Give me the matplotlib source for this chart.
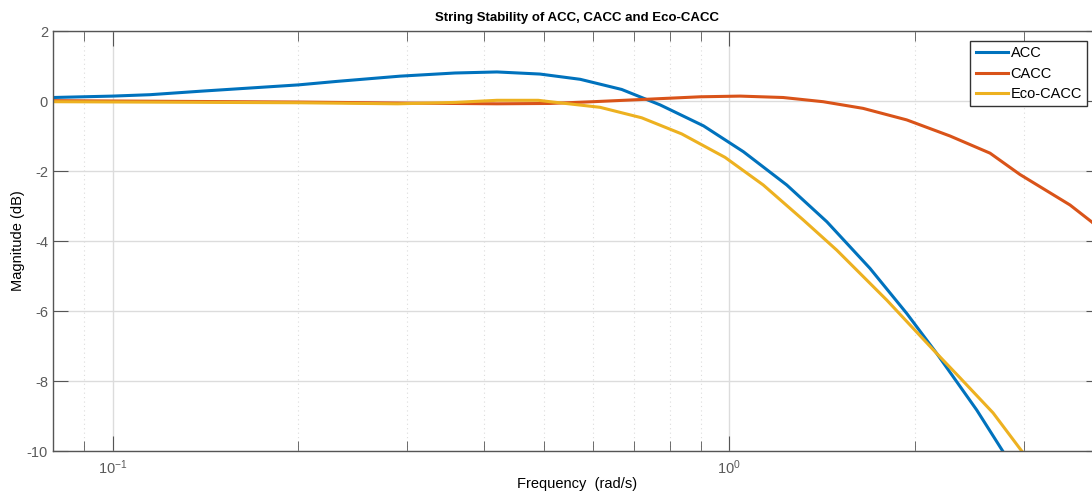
import matplotlib
matplotlib.use("Agg")
import matplotlib.pyplot as plt
from matplotlib.ticker import LogLocator, NullFormatter

plt.rcParams['font.family'] = ['Liberation Sans', 'DejaVu Sans']
plt.rcParams['axes.unicode_minus'] = False

# frequencies (rad/s) and magnitudes (dB)
w_acc = [0.08, 0.1, 0.115, 0.139, 0.2, 0.231, 0.2925, 0.359, 0.42, 0.493, 0.573,
         0.669, 0.772, 0.908, 1.054, 1.239, 1.439, 1.69, 1.939, 2.168, 2.518,
         2.774, 2.9]
m_acc = [0.10, 0.14, 0.18, 0.28, 0.46, 0.56, 0.71, 0.80, 0.83, 0.77, 0.62,
         0.33, -0.11, -0.71, -1.45, -2.4, -3.45, -4.78, -6.07, -7.21, -8.83,
         -10.0, -10.6]

w_cacc = [0.08, 0.2, 0.3, 0.42, 0.512, 0.601, 0.735, 0.896, 1.041, 1.222, 1.419,
          1.647, 1.939, 2.279, 2.646, 2.959, 3.566, 3.871, 4.0]
m_cacc = [0.01, -0.03, -0.06, -0.08, -0.07, -0.02, 0.05, 0.12, 0.14, 0.10, -0.02,
          -0.21, -0.54, -1.0, -1.49, -2.1, -2.97, -3.46, -3.7]

w_eco = [0.08, 0.2, 0.29, 0.36, 0.42, 0.49, 0.512, 0.617, 0.721, 0.837, 0.984,
         1.135, 1.318, 1.493, 1.8, 2.141, 2.366, 2.676, 2.978, 3.1]
m_eco = [-0.02, -0.05, -0.08, -0.04, 0.02, 0.02, -0.02, -0.18, -0.48, -0.94, -1.61,
         -2.4, -3.4, -4.26, -5.69, -7.11, -7.91, -8.91, -10.0, -10.4]

fig = plt.figure(figsize=(10.92, 4.96), dpi=100)
ax = fig.add_axes([0.0483, 0.0907, 1.008 - 0.0483, 0.9375 - 0.0907])

ax.plot(w_acc, m_acc, color='#0072BD', lw=2.2, label='ACC')
ax.plot(w_cacc, m_cacc, color='#D95319', lw=2.2, label='CACC')
ax.plot(w_eco, m_eco, color='#EDB120', lw=2.2, label='Eco-CACC')

ax.set_xscale('log')
ax.set_xlim(0.08, 4.0)
ax.set_ylim(-10, 2)
ax.set_yticks(range(-10, 3, 2))
ax.xaxis.set_major_locator(LogLocator(base=10))
ax.xaxis.set_minor_locator(LogLocator(base=10, subs=range(2, 10)))
ax.xaxis.set_minor_formatter(NullFormatter())

ax.grid(True, which='major', color='#dcdcdc', lw=1.0)
ax.grid(True, which='minor', axis='x', color='#dcdcdc', lw=0.8, ls=(0, (1, 3)))
ax.set_axisbelow(True)

for s in ax.spines.values():
    s.set_color('#555555')
    s.set_linewidth(1.0)
ax.tick_params(which='both', direction='in', top=True, right=True,
               colors='#555555', labelcolor='#5a5a5a', labelsize=10.5)
ax.tick_params(which='major', length=11)
ax.tick_params(which='minor', length=7)
ax.tick_params(axis='x', pad=5)

ax.set_xlabel('Frequency  (rad/s)', fontsize=10.5, labelpad=0)
ax.set_ylabel('Magnitude (dB)', fontsize=10.5)
# y label sits at a fixed spot, right side of the rotated text ~ x=25px
ax.yaxis.set_label_coords(25 / 1092, (496 - 241) / 496, transform=fig.transFigure)
ax.set_title('String Stability of ACC, CACC and Eco-CACC', fontsize=9.5,
             fontweight='bold', pad=7)

leg = ax.legend(loc='upper right', bbox_to_anchor=(1087 / 1092, 1 - 41 / 496),
                bbox_transform=fig.transFigure, fontsize=10.5, fancybox=False,
                framealpha=1, edgecolor='#333333', handlelength=2.2,
                handletextpad=0.2, borderpad=0.35, labelspacing=0.45,
                borderaxespad=0)
leg.get_frame().set_linewidth(1.0)

fig.savefig('out.png', dpi=100)
